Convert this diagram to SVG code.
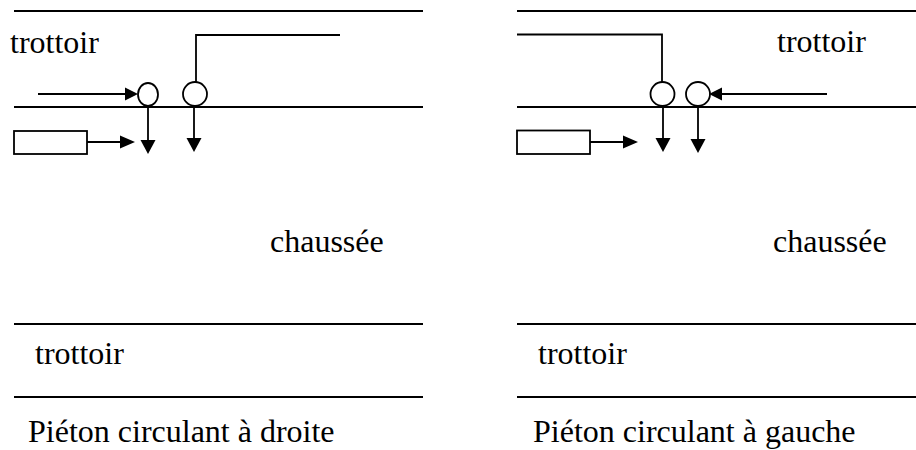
<svg xmlns="http://www.w3.org/2000/svg" width="916" height="450" viewBox="0 0 916 450">
<style>
.ln{stroke:#000;stroke-width:2;fill:none}
.th{stroke:#000;stroke-width:1.8;fill:none}
.ar{fill:#000;stroke:none}
text{font-family:'Liberation Serif','Times New Roman','DejaVu Serif',serif;font-size:32px;fill:#000}
</style>
<rect width="916" height="450" fill="#fff"/>
<g id="left-road" font-family="Liberation Serif, serif">
<line class="ln" x1="14" y1="11" x2="423" y2="11"/>
<line class="ln" x1="14" y1="107" x2="423" y2="107"/>
<line class="ln" x1="14" y1="324" x2="423" y2="324"/>
<line class="ln" x1="14" y1="397" x2="423" y2="397"/>
<text x="10" y="53">trottoir</text>
<text x="270" y="252">chaussée</text>
<text x="35" y="364">trottoir</text>
<text x="28" y="442">Piéton circulant à droite</text>
</g>
<g id="left-nodes">
<ellipse class="th" cx="148" cy="94.5" rx="10" ry="11.5"/>
<circle class="th" cx="195" cy="94" r="12"/>
<rect class="th" x="14" y="131" width="73" height="23"/>
</g>
<g id="left-connectors">
<polyline class="th" points="340,35 196,35 196,82"/>
<line class="th" x1="38" y1="94" x2="126" y2="94"/>
<polygon class="ar" points="125,87.5 138,94 125,100.5"/>
<line class="th" x1="87" y1="142" x2="121" y2="142"/>
<polygon class="ar" points="120,135.5 135,142 120,148.5"/>
<line class="th" x1="148" y1="106" x2="148" y2="141"/>
<polygon class="ar" points="140.5,140 155.5,140 148,154"/>
<line class="th" x1="194" y1="106" x2="194" y2="139"/>
<polygon class="ar" points="186.5,138 201.5,138 194,152"/>
</g>
<g id="right-road" font-family="Liberation Serif, serif">
<line class="ln" x1="517" y1="11" x2="916" y2="11"/>
<line class="ln" x1="517" y1="107" x2="916" y2="107"/>
<line class="ln" x1="517" y1="324" x2="916" y2="324"/>
<line class="ln" x1="517" y1="397" x2="916" y2="397"/>
<text x="777" y="52">trottoir</text>
<text x="773" y="252">chaussée</text>
<text x="538" y="364">trottoir</text>
<text x="533" y="442">Piéton circulant à gauche</text>
</g>
<g id="right-nodes">
<circle class="th" cx="662.5" cy="94" r="12"/>
<circle class="th" cx="698" cy="94" r="12"/>
<rect class="th" x="517" y="130.5" width="73" height="23.5"/>
</g>
<g id="right-connectors">
<polyline class="th" points="517,34.5 662,34.5 662,82"/>
<line class="th" x1="827" y1="94" x2="721" y2="94"/>
<polygon class="ar" points="722,87.5 709,94 722,100.5"/>
<line class="th" x1="590" y1="142" x2="624" y2="142"/>
<polygon class="ar" points="623,135.5 638,142 623,148.5"/>
<line class="th" x1="663" y1="106" x2="663" y2="139"/>
<polygon class="ar" points="655.5,138 670.5,138 663,152"/>
<line class="th" x1="698" y1="106" x2="698" y2="140"/>
<polygon class="ar" points="690.5,139 705.5,139 698,153"/>
</g>
</svg>
